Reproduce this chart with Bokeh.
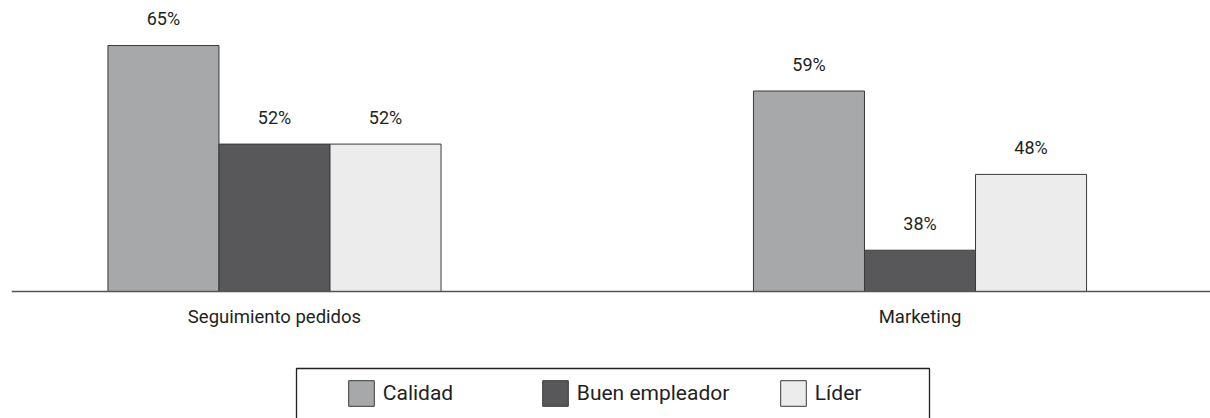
from bokeh.plotting import figure
from bokeh.models import (ColumnDataSource, Range1d, Legend, LegendItem,
                          BoxAnnotation, Span)
from bokeh.transform import dodge
from bokeh.core.properties import value
from bokeh.embed import file_html
from bokeh.resources import INLINE

# ---- data ----
categories = ["Seguimiento pedidos", "Marketing"]
series = ["Calidad", "Buen empleador", "Líder"]
calidad = [65, 59]
buen_empleador = [52, 38]
lider = [52, 48]
colors = ["#a7a8aa", "#58585a", "#ebeceb"]

values_by_series = [calidad, buen_empleador, lider]
positions = [i + 1 for i in range(len(categories))]

FONT = "Roboto"
TEXT = "#231f20"
BASE = 32.55  # value at which the category axis line sits

p = figure(width=1210, height=418, output_backend="svg", toolbar_location=None,
           x_range=Range1d(0.5926, 2.45), y_range=Range1d(15.80, 70.94),
           x_axis_location=None, y_axis_location=None,
           min_border_left=11, min_border_right=0,
           min_border_top=0, min_border_bottom=0)
p.outline_line_color = None
p.grid.visible = False
p.background_fill_color = "white"
p.border_fill_color = "white"

bar_w = 0.172
offsets = [-bar_w, 0.0, bar_w]
renderers = []
for name, vals, col, off in zip(series, values_by_series, colors, offsets):
    src = ColumnDataSource(dict(x=positions, v=vals, lab=[f"{v}%" for v in vals]))
    r = p.vbar(x=dodge("x", off, range=p.x_range), top="v", bottom=BASE, width=bar_w,
               source=src, fill_color=col, line_color="#3a3a3a", line_width=1)
    renderers.append(r)
    p.text(x=dodge("x", off, range=p.x_range), y="v", text="lab", source=src,
           text_align="center", text_baseline="alphabetic", y_offset=-27,
           text_font=value(FONT), text_font_size="18px", text_color=TEXT)

# category axis line and labels
p.add_layout(Span(location=BASE, dimension="width", line_color="#555555",
                  line_width=1.5))
cat_src = ColumnDataSource(dict(x=positions, y=[BASE] * len(categories), t=categories))
p.text(x="x", y="y", text="t", source=cat_src, text_align="center",
       text_baseline="top", y_offset=14, text_font=value(FONT),
       text_font_size="18.5px", text_color=TEXT)

# legend frame
box = BoxAnnotation(left=285, right=918, top=50, bottom=-3,
                    left_units="screen", right_units="screen",
                    top_units="screen", bottom_units="screen",
                    fill_alpha=0, line_color=TEXT, line_width=1.3, line_alpha=1)
p.add_layout(box)

# legend items placed individually
for name, r, lx in zip(series, renderers, [333.8, 527.8, 765.8]):
    leg = Legend(items=[LegendItem(label=name, renderers=[r])],
                 location=(lx, 9.2), orientation="horizontal",
                 glyph_width=32, glyph_height=32, label_standoff=6,
                 padding=0, margin=0, border_line_color=None,
                 background_fill_alpha=0, label_text_font=FONT,
                 label_text_font_size="21px", label_text_color=TEXT)
    p.add_layout(leg, "center")

open("out.html", "w").write(file_html(p, INLINE))
